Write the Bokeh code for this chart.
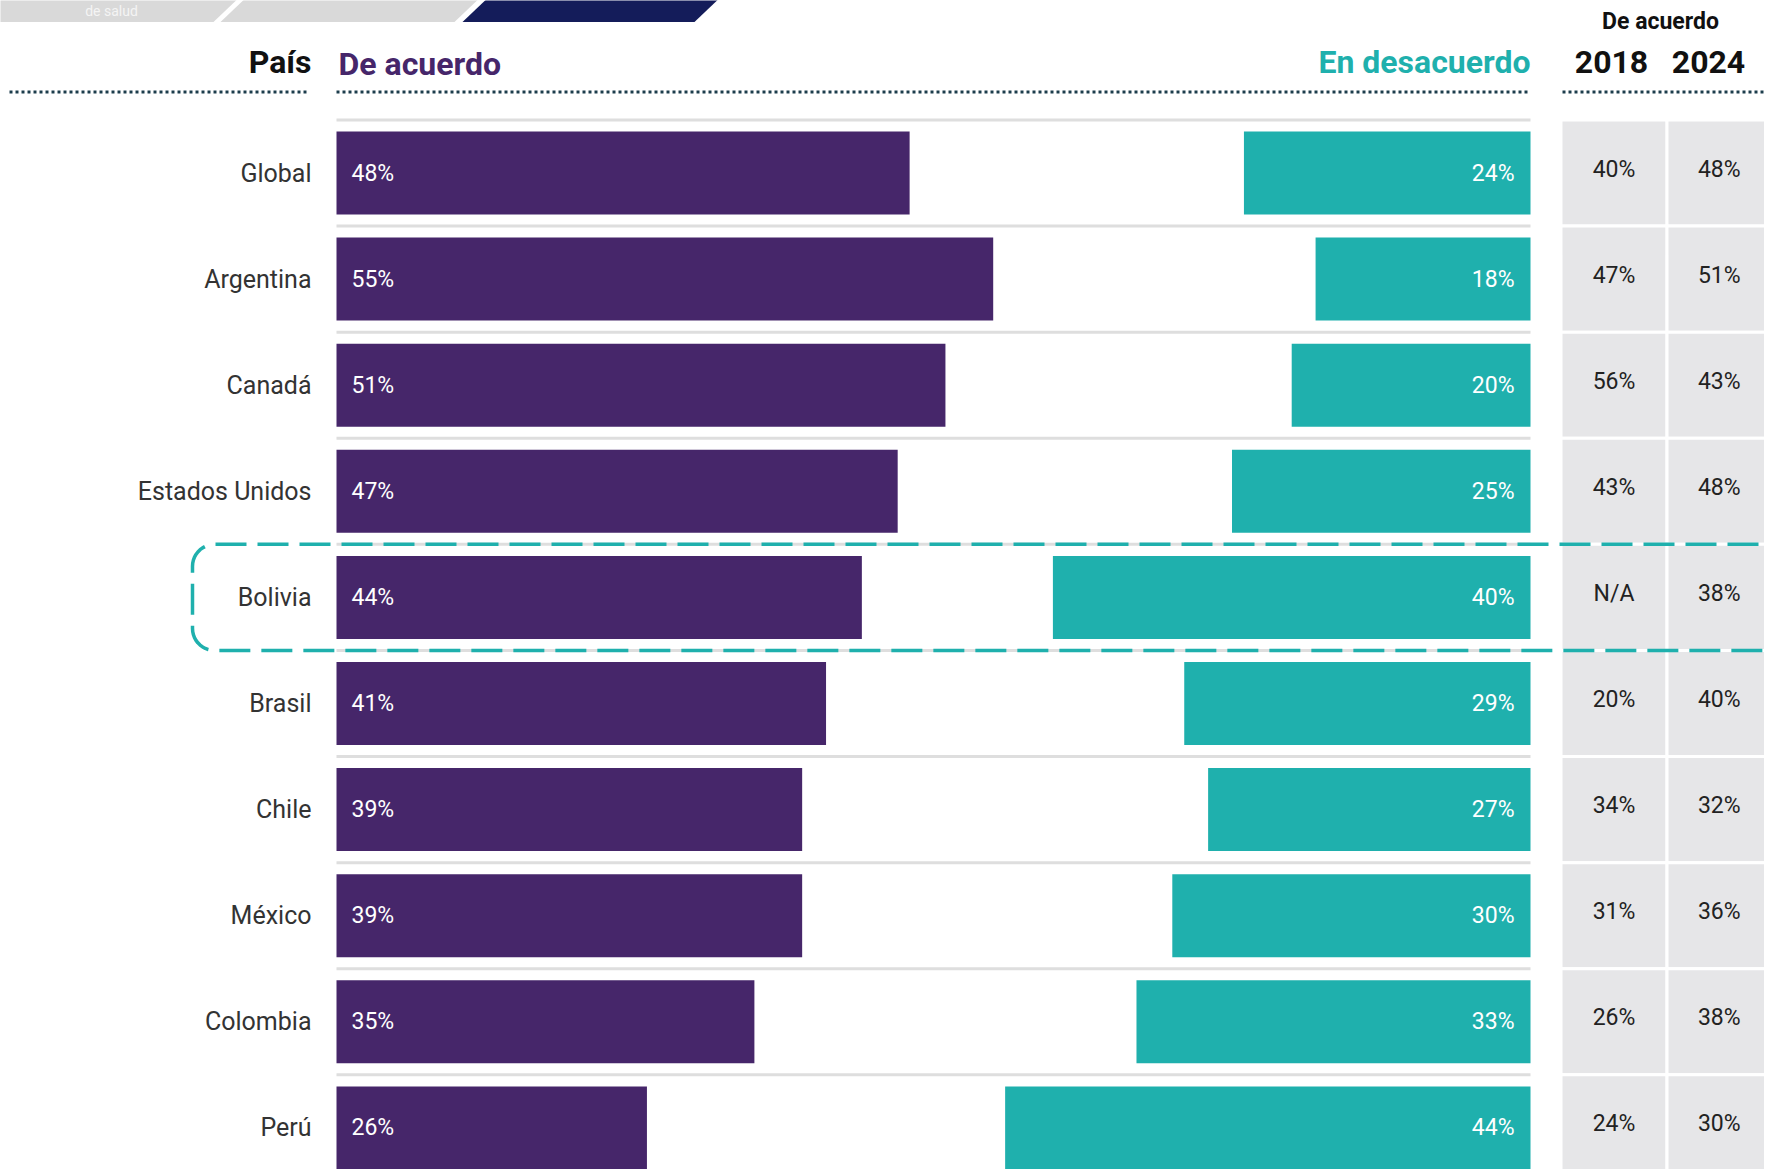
import numpy as np
from bokeh.plotting import figure
from bokeh.models import Range1d, ColumnDataSource
from bokeh.core.properties import value
from bokeh.embed import file_html
from bokeh.resources import INLINE

# ---------------- data ----------------
countries = ["Global", "Argentina", "Canadá", "Estados Unidos", "Bolivia",
             "Brasil", "Chile", "México", "Colombia", "Perú"]
agree = [48, 55, 51, 47, 44, 41, 39, 39, 35, 26]
disagree = [24, 18, 20, 25, 40, 29, 27, 30, 33, 44]
agree_2018 = ["40%", "47%", "56%", "43%", "N/A", "20%", "34%", "31%", "26%", "24%"]
agree_2024 = ["48%", "51%", "43%", "48%", "38%", "40%", "32%", "36%", "38%", "30%"]
highlight = "Bolivia"

# ---------------- style ----------------
PURPLE = "#46266a"
TEAL = "#1fb0ad"
NAVY = "#141c5a"
DOT = "#1c3d4c"
CELL = "#e6e6e8"
SEP = "#dedede"
HEAD_FONT = value("Roboto")
BODY_FONT = value("Roboto")

# layout helpers: page pixel -> data units (x in %, y in row index)
PX_PER_PCT = 11.94
X0 = 336.0
ROW_PX = 106.1
Y0 = 172.5


def X(px):
    return (px - X0) / PX_PER_PCT


def Y(py):
    return (py - Y0) / ROW_PX


W, H = 1764, 1169
p = figure(width=W, height=H, output_backend="svg", toolbar_location=None,
           x_range=Range1d(X(0), X(W)), y_range=Range1d(Y(H), Y(0)),
           min_border=0, outline_line_color=None, background_fill_color="white",
           border_fill_color="white")
p.xaxis.visible = False
p.yaxis.visible = False
p.grid.visible = False

n = len(countries)
idx = list(range(n))
src = ColumnDataSource(dict(
    y=idx, country=countries, agree=agree, disagree=disagree,
    dis_left=[100 - d for d in disagree],
    agree_lbl=[f"{a}%" for a in agree], dis_lbl=[f"{d}%" for d in disagree],
    a18=agree_2018, a24=agree_2024,
))

# ---------- top navigation tabs (decorative) ----------
def tab(xb_left, xb_right, slope=1.05, top=-5, bottom=21.5):
    dy = bottom - top
    xs = [X(xb_left), X(xb_left + slope * dy), X(xb_right + slope * dy), X(xb_right)]
    ys = [Y(bottom), Y(top), Y(top), Y(bottom)]
    return xs, ys

tabs = [tab(-60, 213), tab(220, 454), tab(462, 694)]
p.patches(xs=[t[0] for t in tabs], ys=[t[1] for t in tabs],
          fill_color=["#d9d9d9", "#d9d9d9", NAVY], line_color=None)
p.text(x=[X(111)], y=[Y(10)], text=["de salud"], text_align="center",
       text_baseline="middle", text_color="#f4f4f4", text_font=BODY_FONT,
       text_font_size="14px")

# ---------- table cells ----------
col1 = (X(1560.5), X(1666.5))
col2 = (X(1666.5), X(1790))
for (l, r) in (col1, col2):
    p.quad(left=[l] * n, right=[r] * n,
           top=[i - 0.5 for i in idx], bottom=[i + 0.5 for i in idx],
           fill_color=CELL, line_color="white", line_width=3)
p.quad(left=[col1[0], col2[0]], right=[col1[1], col2[1]],
       top=[n - 0.5] * 2, bottom=[Y(1200)] * 2,
       fill_color=CELL, line_color="white", line_width=3)

# ---------- row separators ----------
seps = [i - 0.5 for i in idx] + [n - 0.5]
p.segment(x0=[0] * len(seps), x1=[100] * len(seps), y0=seps, y1=seps,
          line_color=SEP, line_width=3)

# ---------- bars ----------
BH = 83 / ROW_PX
p.hbar(y="y", left=0, right="agree", height=BH, source=src,
       fill_color=PURPLE, line_color=None)
p.hbar(y="y", left="dis_left", right=100, height=BH, source=src,
       fill_color=TEAL, line_color=None)

# ---------- bar labels ----------
p.text(x=0, y="y", text="agree_lbl", source=src, x_offset=15,
       text_align="left", text_baseline="middle", text_color="white",
       text_font=BODY_FONT, text_font_size="23px")
p.text(x=100, y="y", text="dis_lbl", source=src, x_offset=-16,
       text_align="right", text_baseline="middle", text_color="white",
       text_font=BODY_FONT, text_font_size="23px")

# ---------- country labels ----------
p.text(x=0, y="y", text="country", source=src, x_offset=-25,
       text_align="right", text_baseline="middle", text_color="#333333",
       text_font=BODY_FONT, text_font_size="25px")

# ---------- table values ----------
c1 = (col1[0] + X(1666.5)) / 2
c2 = (X(1666.5) + X(1771)) / 2
p.text(x=c1, y="y", text="a18", source=src, y_offset=-4,
       text_align="center", text_baseline="middle", text_color="#222222",
       text_font=BODY_FONT, text_font_size="23px")
p.text(x=c2, y="y", text="a24", source=src, y_offset=-4,
       text_align="center", text_baseline="middle", text_color="#222222",
       text_font=BODY_FONT, text_font_size="23px")

# ---------- headers ----------
hy = Y(61)
p.text(x=[0], y=[hy], text=["País"], x_offset=-25, text_align="right",
       text_baseline="alphabetic", text_color="#111111", text_font=HEAD_FONT,
       text_font_style="bold", text_font_size="32px")
p.text(x=[0], y=[Y(63)], text=["De acuerdo"], x_offset=2, text_align="left",
       text_baseline="alphabetic", text_color=PURPLE, text_font=HEAD_FONT,
       text_font_style="bold", text_font_size="32px")
p.text(x=[100], y=[hy], text=["En desacuerdo"], text_align="right",
       text_baseline="alphabetic", text_color=TEAL, text_font=HEAD_FONT,
       text_font_style="bold", text_font_size="32px")
p.text(x=[X(1611), X(1708)], y=[hy, hy], text=["2018", "2024"], text_align="center",
       text_baseline="alphabetic", text_color="#111111", text_font=HEAD_FONT,
       text_font_style="bold", text_font_size="32px")
p.text(x=[X(1660)], y=[Y(21)], text=["De acuerdo"], text_align="center",
       text_baseline="alphabetic", text_color="#111111", text_font=HEAD_FONT,
       text_font_style="bold", text_font_size="23px")

# ---------- dotted header rules ----------
dy_ = Y(91.5)
p.segment(x0=[X(9), 0, X(1562)], x1=[X(309), 100, X(1763)],
          y0=[dy_] * 3, y1=[dy_] * 3, line_color=DOT, line_width=3,
          line_dash="3 3")

# ---------- highlight box around Bolivia ----------
hi = countries.index(highlight)
top_px = Y0 + ROW_PX * (hi - 0.5)
bot_px = Y0 + ROW_PX * (hi + 0.5)
left_px, r = 192.0, 22.0
t1 = np.linspace(-np.pi / 2, -np.pi, 12)
t2 = np.linspace(np.pi, np.pi / 2, 12)
xs_px = ([1800.0] + list(left_px + r + r * np.cos(t1)) +
         list(left_px + r + r * np.cos(t2)) + [1800.0])
ys_px = ([top_px] + list(top_px + r + r * np.sin(t1)) +
         list(bot_px - r + r * np.sin(t2)) + [bot_px])
p.line(x=[X(v) for v in xs_px], y=[Y(v) for v in ys_px],
       line_color=TEAL, line_width=3.5, line_dash="31 11")

open("out.html", "w").write(file_html(p, INLINE))
